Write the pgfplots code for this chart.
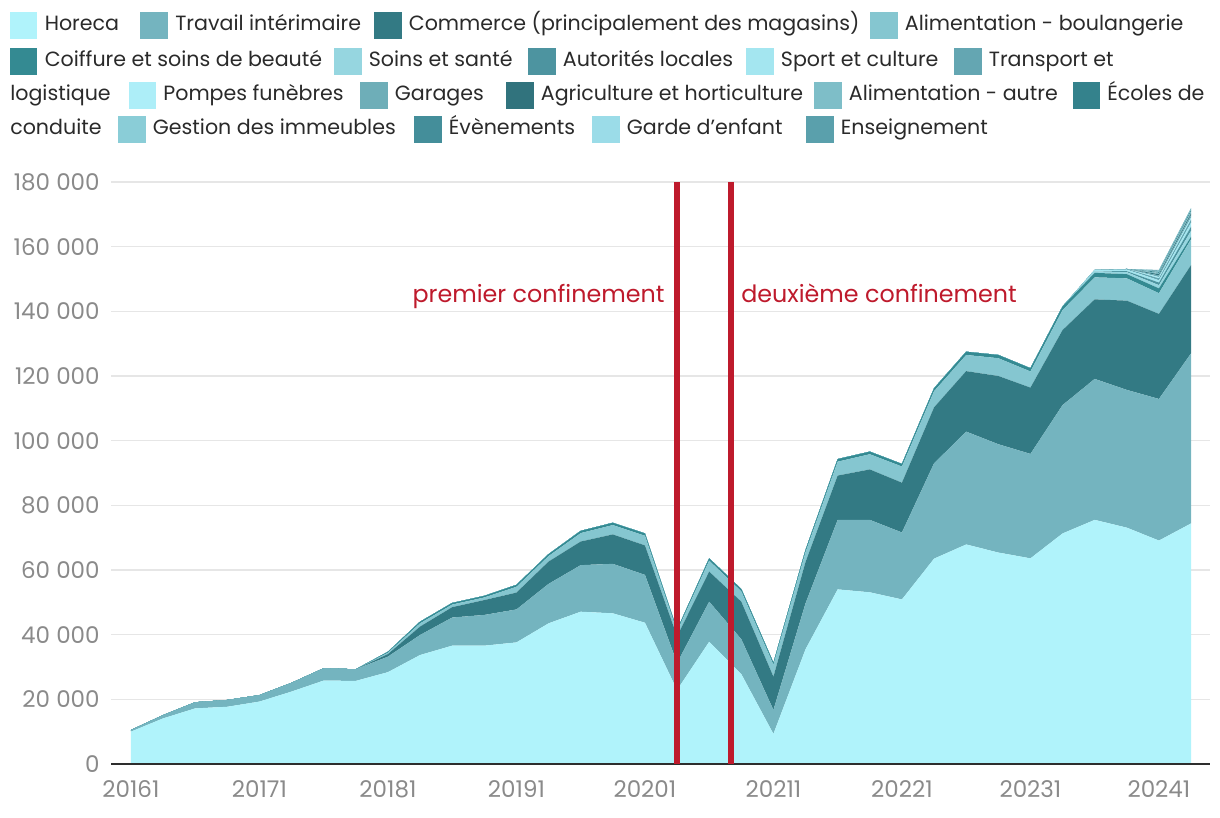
\documentclass[border=0pt]{standalone}
\usepackage{fontspec}
\setmainfont{Poppins}
\usepackage{pgfplots}
\pgfplotsset{compat=1.18}
\usepackage{pgfplotstable}

\definecolor{chor}{HTML}{B0F3FB}
\definecolor{ctra}{HTML}{74B4BF}
\definecolor{ccom}{HTML}{337A84}
\definecolor{calb}{HTML}{85C6D0}
\definecolor{ccoi}{HTML}{348A92}
\definecolor{csoi}{HTML}{96D6E0}
\definecolor{caut}{HTML}{4D94A0}
\definecolor{cspo}{HTML}{A4E6F0}
\definecolor{ctrn}{HTML}{64A6B2}
\definecolor{cpom}{HTML}{ADEEF8}
\definecolor{cgar}{HTML}{6EAEB8}
\definecolor{cagr}{HTML}{31737D}
\definecolor{cala}{HTML}{7EBEC8}
\definecolor{ceco}{HTML}{34828C}
\definecolor{cges}{HTML}{8ACDD7}
\definecolor{ceve}{HTML}{448E9A}
\definecolor{cgde}{HTML}{9BDCE8}
\definecolor{cens}{HTML}{5AA0AC}
\definecolor{redc}{HTML}{BE1A2C}
\definecolor{tickgray}{HTML}{8A8A8A}
\definecolor{gridgray}{HTML}{E6E6E6}
\definecolor{legtext}{HTML}{2A2A2A}

\pgfplotstableread{
idx hor tra com alb coi soi aut spo trn pom gar agr ala eco ges eve gde ens
0 10000 500 0 0 0 0 0 0 0 0 0 0 0 0 0 0 0 0
1 14100 1000 0 0 0 0 0 0 0 0 0 0 0 0 0 0 0 0
2 17200 1900 0 0 0 0 0 0 0 0 0 0 0 0 0 0 0 0
3 17700 2100 0 0 0 0 0 0 0 0 0 0 0 0 0 0 0 0
4 19300 2000 0 0 0 0 0 0 0 0 0 0 0 0 0 0 0 0
5 22400 2700 0 0 0 0 0 0 0 0 0 0 0 0 0 0 0 0
6 25800 3800 0 0 0 0 0 0 0 0 0 0 0 0 0 0 0 0
7 25700 3600 0 0 0 0 0 0 0 0 0 0 0 0 0 0 0 0
8 28400 4800 800 400 300 0 0 0 0 0 0 0 0 0 0 0 0 0
9 33700 6200 2600 1000 500 0 0 0 0 0 0 0 0 0 0 0 0 0
10 36600 8700 3200 800 500 0 0 0 0 0 0 0 0 0 0 0 0 0
11 36600 9500 4600 800 500 0 0 0 0 0 0 0 0 0 0 0 0 0
12 37600 10200 5200 1800 600 0 0 0 0 0 0 0 0 0 0 0 0 0
13 43500 12200 6900 1700 600 0 0 0 0 0 0 0 0 0 0 0 0 0
14 47100 14400 7300 2600 700 0 0 0 0 0 0 0 0 0 0 0 0 0
15 46600 15300 9100 2900 700 0 0 0 0 0 0 0 0 0 0 0 0 0
16 43700 14800 9100 3000 700 0 0 0 0 0 0 0 0 0 0 0 0 0
17 22900 8300 8300 1500 500 0 0 0 0 0 0 0 0 0 0 0 0 0
18 37800 12400 9300 3400 700 0 0 0 0 0 0 0 0 0 0 0 0 0
19 27800 10800 11600 3200 700 0 0 0 0 0 0 0 0 0 0 0 0 0
20 9300 7400 10300 3700 600 0 0 0 0 0 0 0 0 0 0 0 0 0
21 35500 14200 12800 3000 700 0 0 0 0 0 0 0 0 0 0 0 0 0
22 54000 21500 13700 4300 800 0 0 0 0 0 0 0 0 0 0 0 0 0
23 53100 22400 15600 4700 800 0 0 0 0 0 0 0 0 0 0 0 0 0
24 50900 20700 15400 5000 800 0 0 0 0 0 0 0 0 0 0 0 0 0
25 63500 29500 17300 5000 900 0 0 0 0 0 0 0 0 0 0 0 0 0
26 67900 34900 18700 5000 1000 0 0 0 0 0 0 0 0 0 0 0 0 0
27 65400 33500 21100 5500 1000 0 0 0 0 0 0 0 0 0 0 0 0 0
28 63600 32300 20500 5000 1000 0 0 0 0 0 0 0 0 0 0 0 0 0
29 71300 39700 23200 6200 1100 0 0 0 0 0 0 0 0 0 0 0 0 0
30 75500 43600 24600 6800 1400 500 0 400 0 0 0 0 0 0 0 0 0 0
31 73100 42600 27600 6900 1300 600 300 500 200 0 0 0 0 0 0 0 0 0
32 69100 43800 26300 6400 1500 1000 800 700 600 400 500 400 400 300 200 200 100 100
33 74400 52600 27300 8000 800 1800 1300 1200 1000 600 800 500 600 400 300 200 100 0
}\data

\newcommand\legfont{\fontsize{10.3}{12}\selectfont}
\newcommand\legsw[3]{\fill[#3] ({(#1)*0.5pt},{(818-(#2)-13.5)*0.5pt}) rectangle ++(13.75pt,13.5pt);}
\newcommand\legtx[3]{\node[anchor=base west, inner sep=0pt, text=legtext, font=\legfont] at ({(#1)*0.5pt},{(818-(#2)-5)*0.5pt}) {#3};}
\newcommand\legit[4]{\legsw{#1}{#2}{#3}\legtx{#1+34.5}{#2}{#4}}

\pgfplotsset{frame/.style={
  at={(55.5pt,27pt)}, anchor=south west,
  scale only axis, width=549.5pt, height=291pt,
  xmin=-0.62, xmax=33.59, ymin=0, ymax=180000,
  clip=false}}

\begin{document}
\begin{tikzpicture}
\useasboundingbox (0,0) rectangle (610pt,409pt);
\begin{axis}[
  frame,
  stack plots=y,
  axis line style={draw=none},
  major tick length=0pt,
  ymajorgrids, grid style={color=gridgray, line width=0.8pt},
  xtick={0,4,...,32},
  xticklabels={20161,20171,20181,20191,20201,20211,20221,20231,20241},
  ytick={0,20000,...,180000},
  yticklabels={0,{20 000},{40 000},{60 000},{80 000},{100 000},{120 000},{140 000},{160 000},{180 000}},
  ticklabel style={font=\fontsize{11.5}{13}\selectfont, text=tickgray},
  xticklabel style={anchor=north, inner sep=0pt, yshift=-8pt},
  yticklabel style={anchor=east, inner sep=0pt, xshift=-5.5pt},
  scaled y ticks=false,
]
\addplot[fill=chor, draw=none] table[x=idx,y=hor]{\data} \closedcycle;
\addplot[fill=ctra, draw=none] table[x=idx,y=tra]{\data} \closedcycle;
\addplot[fill=ccom, draw=none] table[x=idx,y=com]{\data} \closedcycle;
\addplot[fill=calb, draw=none] table[x=idx,y=alb]{\data} \closedcycle;
\addplot[fill=ccoi, draw=none] table[x=idx,y=coi]{\data} \closedcycle;
\addplot[fill=csoi, draw=none] table[x=idx,y=soi]{\data} \closedcycle;
\addplot[fill=caut, draw=none] table[x=idx,y=aut]{\data} \closedcycle;
\addplot[fill=cspo, draw=none] table[x=idx,y=spo]{\data} \closedcycle;
\addplot[fill=ctrn, draw=none] table[x=idx,y=trn]{\data} \closedcycle;
\addplot[fill=cpom, draw=none] table[x=idx,y=pom]{\data} \closedcycle;
\addplot[fill=cgar, draw=none] table[x=idx,y=gar]{\data} \closedcycle;
\addplot[fill=cagr, draw=none] table[x=idx,y=agr]{\data} \closedcycle;
\addplot[fill=cala, draw=none] table[x=idx,y=ala]{\data} \closedcycle;
\addplot[fill=ceco, draw=none] table[x=idx,y=eco]{\data} \closedcycle;
\addplot[fill=cges, draw=none] table[x=idx,y=ges]{\data} \closedcycle;
\addplot[fill=ceve, draw=none] table[x=idx,y=eve]{\data} \closedcycle;
\addplot[fill=cgde, draw=none] table[x=idx,y=gde]{\data} \closedcycle;
\addplot[fill=cens, draw=none] table[x=idx,y=ens]{\data} \closedcycle;
\end{axis}
\begin{axis}[frame, hide axis]
\addplot[color=black!82, line width=1.1pt] coordinates {(-0.62,0) (33.59,0)};
\addplot[color=redc, line width=2.9pt] coordinates {(17,0) (17,180000)};
\addplot[color=redc, line width=2.9pt] coordinates {(18.67,0) (18.67,180000)};
\node[anchor=base east, inner sep=0pt, text=redc, font=\fontsize{11.9}{14}\selectfont] at (axis cs:16.62,142700) {premier confinement};
\node[anchor=base west, inner sep=0pt, text=redc, font=\fontsize{11.9}{14}\selectfont] at (axis cs:18.99,142700) {deuxième confinement};
\end{axis}
% legend
\legit{9.9}{25.7}{chor}{Horeca}
\legit{140.4}{25.7}{ctra}{Travail intérimaire}
\legit{374}{25.7}{ccom}{Commerce (principalement des magasins)}
\legit{870}{25.7}{calb}{Alimentation - boulangerie}
\legit{9.9}{62}{ccoi}{Coiffure et soins de beauté}
\legit{334}{62}{csoi}{Soins et santé}
\legit{528}{62}{caut}{Autorités locales}
\legit{746}{62}{cspo}{Sport et culture}
\legit{954}{62}{ctrn}{Transport et}
\legtx{9.9}{96}{logistique}
\legit{128.5}{96}{cpom}{Pompes funèbres}
\legit{360}{96}{cgar}{Garages}
\legit{506}{96}{cagr}{Agriculture et horticulture}
\legit{814}{96}{cala}{Alimentation - autre}
\legit{1072.5}{96}{ceco}{Écoles de}
\legtx{9.9}{130}{conduite}
\legit{118}{130}{cges}{Gestion des immeubles}
\legit{414}{130}{ceve}{Évènements}
\legit{592}{130}{cgde}{Garde d'enfant}
\legit{806}{130}{cens}{Enseignement}
\end{tikzpicture}
\end{document}
